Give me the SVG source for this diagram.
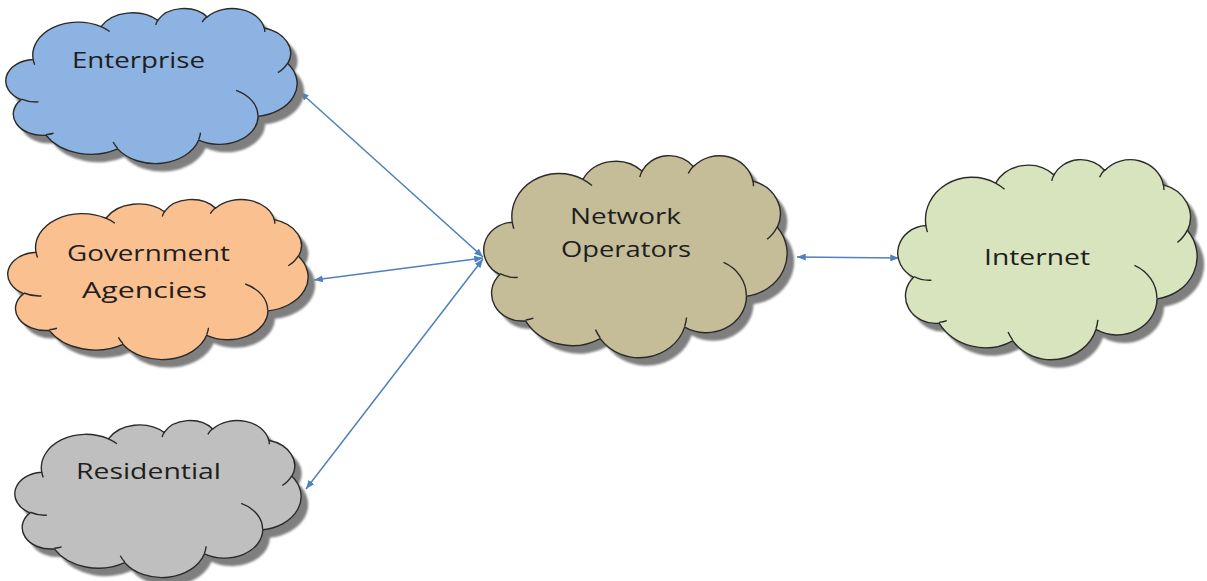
<svg xmlns="http://www.w3.org/2000/svg" xmlns:xlink="http://www.w3.org/1999/xlink" width="1207" height="581" viewBox="0 0 1207 581">
<style>
.ol{stroke:#2a2a2a;stroke-width:1.4;stroke-linejoin:round}
.in{fill:none;stroke:#2a2a2a;stroke-width:1.4}
.sh{fill:#7f7f7f;stroke:none}
.lbl{font-family:"Open Sans","DejaVu Sans",sans-serif;font-size:22px;fill:#1e1e1e}
.conn{stroke:#4F81BD;stroke-width:1.5;fill:none;marker-start:url(#ah);marker-end:url(#ah)}
</style>
<defs>
<path id="cl" vector-effect="non-scaling-stroke" d="M3900,14370 A6753,9190 0 0 1 14005,5202 A5333,7267 0 0 1 22456,3432 A4365,5945 0 0 1 29833,2481 A4857,6595 0 0 1 38318,5576 A5333,7273 0 0 1 41819,15460 A6775,9220 0 0 1 37405,30203 A5785,7867 0 0 1 28556,36813 A6752,9215 0 0 1 16481,39264 A7720,10543 0 0 1 5805,35470 A4360,5918 0 0 1 2114,25548 A4345,5945 0 0 1 3900,14370 Z"/>
<path id="cli" vector-effect="non-scaling-stroke" d="M4693,26177 A4345,5945 0 0 1 2160,25380 M6928,34899 A4360,5918 0 0 1 5820,35281 M16478,39090 A6752,9215 0 0 1 15810,37350 M28827,34751 A6752,9215 0 0 1 28560,36660 M34129,22954 A5785,7867 0 0 1 37380,30090 M41798,15354 A5333,7273 0 0 1 40350,18030 M38324,5426 A4857,6595 0 0 1 38401,6690 M29078,3952 A4857,6595 0 0 1 29820,2340 M22141,4720 A4365,5945 0 0 1 22540,3224 M14000,5192 A6753,9190 0 0 1 15300,6540 M4127,15789 A6753,9190 0 0 1 3900,14370"/>
<filter id="blur" x="-10%" y="-10%" width="120%" height="120%"><feGaussianBlur stdDeviation="1.3"/></filter>
<marker id="ah" viewBox="0 0 10 8" refX="10" refY="4" markerWidth="9" markerHeight="7" markerUnits="userSpaceOnUse" orient="auto-start-reverse"><path d="M0,0 L10,4 L0,8 Z" fill="#4F81BD"/></marker>
</defs>

<g id="connectors">
<line class="conn" x1="300" y1="92" x2="483" y2="257"/>
<line class="conn" x1="314" y1="280" x2="483" y2="258"/>
<line class="conn" x1="306" y1="489" x2="483" y2="259"/>
<line class="conn" x1="797" y1="257" x2="899" y2="258"/>
</g>

<g id="enterprise">
<g filter="url(#blur)" transform="translate(7,8)"><use xlink:href="#cl" class="sh" transform="translate(7,8) scale(0.0067130,0.0035880)"/></g>
<g transform="translate(7,8) scale(0.0067130,0.0035880)"><use xlink:href="#cl" class="ol" fill="#8DB3E2"/><use xlink:href="#cli" class="in"/></g>
<text class="lbl" x="72" y="68" textLength="133" lengthAdjust="spacingAndGlyphs">Enterprise</text>
</g>

<g id="government">
<g filter="url(#blur)" transform="translate(7,8)"><use xlink:href="#cl" class="sh" transform="translate(9,199) scale(0.0069213,0.0037037)"/></g>
<g transform="translate(9,199) scale(0.0069213,0.0037037)"><use xlink:href="#cl" class="ol" fill="#FAC090"/><use xlink:href="#cli" class="in"/></g>
<text class="lbl" x="67" y="261" textLength="163" lengthAdjust="spacingAndGlyphs">Government</text>
<text class="lbl" x="82" y="298" textLength="125" lengthAdjust="spacingAndGlyphs">Agencies</text>
</g>

<g id="residential">
<g filter="url(#blur)" transform="translate(7,8)"><use xlink:href="#cl" class="sh" transform="translate(16,420) scale(0.0065972,0.0036343)"/></g>
<g transform="translate(16,420) scale(0.0065972,0.0036343)"><use xlink:href="#cl" class="ol" fill="#BFBFBF"/><use xlink:href="#cli" class="in"/></g>
<text class="lbl" x="76" y="479" textLength="145" lengthAdjust="spacingAndGlyphs">Residential</text>
</g>

<g id="network-operators">
<g filter="url(#blur)" transform="translate(7,8)"><use xlink:href="#cl" class="sh" transform="translate(485,155) scale(0.0069907,0.0046759)"/></g>
<g transform="translate(485,155) scale(0.0069907,0.0046759)"><use xlink:href="#cl" class="ol" fill="#C4BD97"/><use xlink:href="#cli" class="in"/></g>
<text class="lbl" x="570" y="224" textLength="111" lengthAdjust="spacingAndGlyphs">Network</text>
<text class="lbl" x="561" y="257" textLength="130" lengthAdjust="spacingAndGlyphs">Operators</text>
</g>

<g id="internet">
<g filter="url(#blur)" transform="translate(7,8)"><use xlink:href="#cl" class="sh" transform="translate(899,159) scale(0.0068981,0.0046296)"/></g>
<g transform="translate(899,159) scale(0.0068981,0.0046296)"><use xlink:href="#cl" class="ol" fill="#D7E4BD"/><use xlink:href="#cli" class="in"/></g>
<text class="lbl" x="984" y="265" textLength="106" lengthAdjust="spacingAndGlyphs">Internet</text>
</g>
</svg>
